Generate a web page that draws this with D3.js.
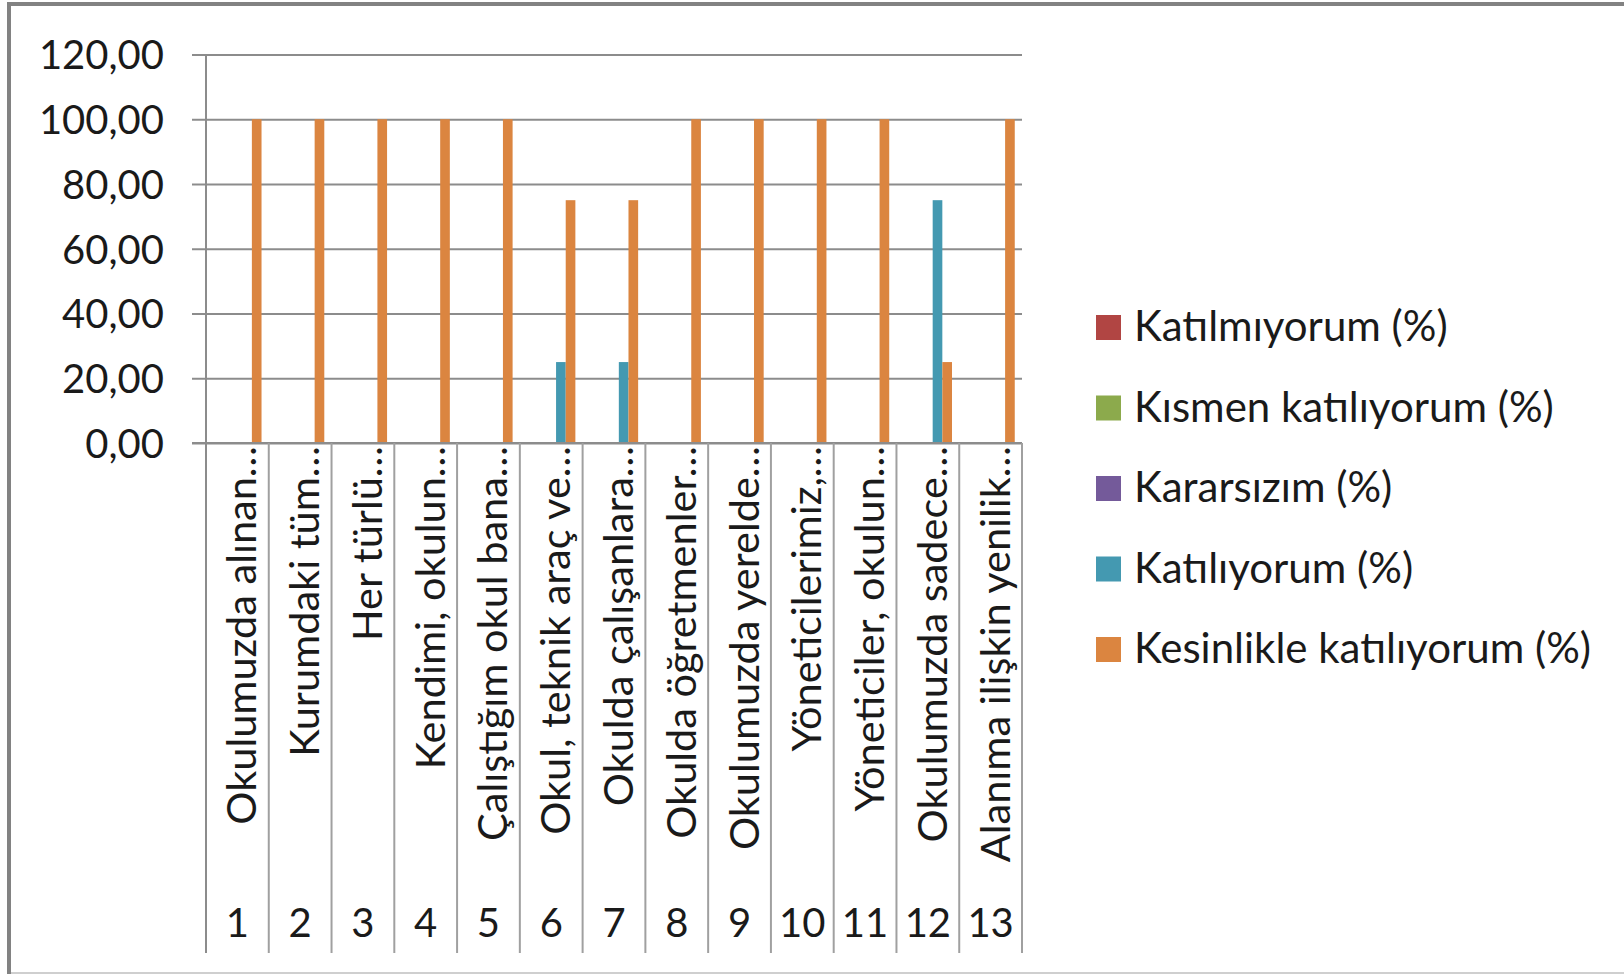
<!DOCTYPE html>
<html>
<head>
<meta charset="utf-8">
<script src="https://cdn.jsdelivr.net/npm/d3@7/dist/d3.min.js"></script>
<style>
  html, body { margin: 0; padding: 0; background: #fff; }
  svg { display: block; }
  text { font-family: Lato, "Open Sans", sans-serif; fill: #1a1a1a; }
</style>
</head>
<body>
<svg id="chart" width="1624" height="974"></svg>
<script>
// ---- data ----
const categories = ["1","2","3","4","5","6","7","8","9","10","11","12","13"];
const categoryLabels = [
  "Okulumuzda alınan…",
  "Kurumdaki tüm…",
  "Her türlü…",
  "Kendimi, okulun…",
  "Çalıştığım okul bana…",
  "Okul, teknik araç ve…",
  "Okulda çalışanlara…",
  "Okulda öğretmenler…",
  "Okulumuzda yerelde…",
  "Yöneticilerimiz,…",
  "Yöneticiler, okulun…",
  "Okulumuzda sadece…",
  "Alanıma ilişkin yenilik…"
];
const seriesNames = [
  "Katılmıyorum (%)",
  "Kısmen katılıyorum (%)",
  "Kararsızım (%)",
  "Katılıyorum (%)",
  "Kesinlikle katılıyorum (%)"
];
const katilmiyorum  = [0,0,0,0,0,0,0,0,0,0,0,0,0];
const kismen        = [0,0,0,0,0,0,0,0,0,0,0,0,0];
const kararsizim    = [0,0,0,0,0,0,0,0,0,0,0,0,0];
const katiliyorum   = [0,0,0,0,0,25,25,0,0,0,0,75,0];
const kesinlikle    = [100,100,100,100,100,75,75,100,100,100,100,25,100];
const seriesValues = [katilmiyorum, kismen, kararsizim, katiliyorum, kesinlikle];
const yTicks = [0,20,40,60,80,100,120];
const colors = ["#B14543","#8CAA4C","#745A9A","#4499B1","#DB8540"];

// ---- layout ----
const svg = d3.select("#chart");
const plotLeft = 206, plotRight = 1022, plotTop = 54.5, plotBottom = 443, catBottom = 953;

// outer frame
svg.append("rect").attr("x",7).attr("y",2).attr("width",1624).attr("height",4).attr("fill","#828282");
svg.append("rect").attr("x",7).attr("y",2).attr("width",4).attr("height",972).attr("fill","#828282");
svg.append("rect").attr("x",11).attr("y",972).attr("width",1613).attr("height",2).attr("fill","#cfcfcf");

const y = d3.scaleLinear().domain([0,120]).range([plotBottom, plotTop]);
const x0 = d3.scaleBand().domain(categories).range([plotLeft, plotRight]).padding(0);
const x1 = d3.scaleBand().domain(seriesNames).range([0, x0.bandwidth()]).paddingInner(0).paddingOuter(0.75);
const color = d3.scaleOrdinal().domain(seriesNames).range(colors);

// gridlines
const grid = svg.append("g").attr("transform",`translate(${plotLeft},0)`)
  .call(d3.axisLeft(y).tickValues(yTicks).tickSize(-(plotRight-plotLeft)).tickFormat(""));
grid.select(".domain").remove();
grid.selectAll("line").attr("stroke","#8c8c8c").attr("stroke-width",2);

// y axis (ticks + labels)
const yAxis = svg.append("g").attr("transform",`translate(${plotLeft},0)`)
  .call(d3.axisLeft(y).tickValues(yTicks).tickSize(14).tickPadding(28)
    .tickFormat(d => d3.format(".2f")(d).replace(".", ",")));
yAxis.select(".domain").remove();
yAxis.selectAll("line").attr("stroke","#8c8c8c").attr("stroke-width",2);
yAxis.selectAll("text").attr("font-size",40).attr("fill","#1a1a1a")
  .attr("font-family","Lato, sans-serif").attr("dy","0.36em");

// bars
const data = categories.map((c,i) => ({c, vals: seriesNames.map((s,j) => ({s, v: seriesValues[j][i]}))}));
const groups = svg.append("g").selectAll("g").data(data).join("g")
  .attr("transform", d => `translate(${x0(d.c)},0)`);
groups.selectAll("rect").data(d => d.vals).join("rect")
  .attr("x", d => x1(d.s))
  .attr("width", x1.bandwidth())
  .attr("y", d => y(d.v))
  .attr("height", d => y(0) - y(d.v))
  .attr("fill", d => color(d.s));

// axes lines
svg.append("line").attr("x1",192).attr("x2",plotRight).attr("y1",y(0)).attr("y2",y(0))
  .attr("stroke","#8c8c8c").attr("stroke-width",2);
svg.append("line").attr("x1",plotLeft).attr("x2",plotLeft).attr("y1",plotTop).attr("y2",catBottom)
  .attr("stroke","#8c8c8c").attr("stroke-width",2);

// category separators
const seps = categories.map(c => x0(c) + x0.bandwidth());
svg.append("g").selectAll("line").data(seps).join("line")
  .attr("x1", d => d).attr("x2", d => d).attr("y1", y(0)).attr("y2", catBottom)
  .attr("stroke","#a0a0a0").attr("stroke-width",2);

// rotated category labels
svg.append("g").selectAll("text").data(categories).join("text")
  .attr("transform", c => `translate(${x0(c) + x0.bandwidth()/2},446) rotate(-90)`)
  .attr("text-anchor","end")
  .attr("y", 19)
  .attr("font-size",41.5)
  .text((c,i) => categoryLabels[i]);

// category numbers
svg.append("g").selectAll("text").data(categories).join("text")
  .attr("x", c => x0(c) + x0.bandwidth()/2)
  .attr("y", 937)
  .attr("text-anchor","middle")
  .attr("font-size",40)
  .text(c => c);

// legend
const legend = svg.append("g").selectAll("g").data(seriesNames).join("g")
  .attr("transform",(d,i) => `translate(1096,${341 + i*80.5})`);
legend.append("rect").attr("x",0).attr("y",-26).attr("width",25).attr("height",25)
  .attr("fill", d => color(d));
legend.append("text").attr("x",38).attr("y",0).attr("font-size",42).text(d => d);
</script>
</body>
</html>
